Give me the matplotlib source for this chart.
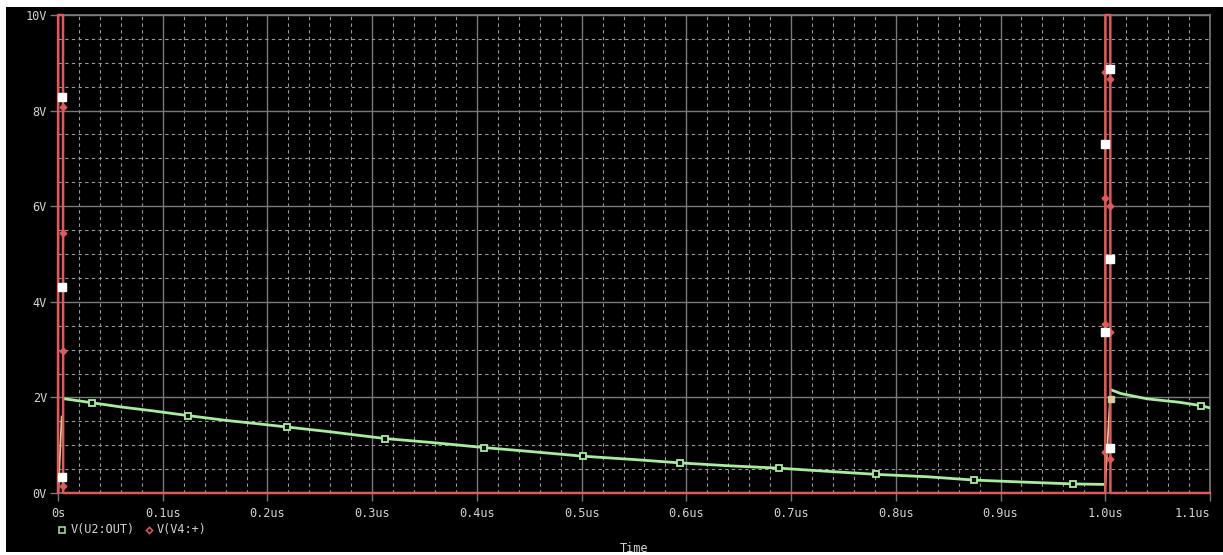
import matplotlib
matplotlib.use("Agg")
import matplotlib.pyplot as plt
from matplotlib.patches import Rectangle
from matplotlib.lines import Line2D
from matplotlib.ticker import MultipleLocator, FixedLocator

# ---------------- data (time in us, volts) ----------------
t_green1 = [0.0062, 0.032, 0.06, 0.09, 0.124, 0.16, 0.19, 0.219, 0.26, 0.312, 0.36,
            0.407, 0.45, 0.501, 0.55, 0.594, 0.64, 0.688, 0.73, 0.781, 0.83, 0.875,
            0.92, 0.969, 0.998]
v_green1 = [1.97, 1.89, 1.80, 1.72, 1.62, 1.52, 1.45, 1.38, 1.28, 1.14, 1.05,
            0.95, 0.87, 0.77, 0.70, 0.63, 0.57, 0.52, 0.46, 0.39, 0.34, 0.27,
            0.23, 0.19, 0.18]
t_green2 = [1.0065, 1.015, 1.04, 1.07, 1.091, 1.1]
v_green2 = [2.15, 2.08, 1.97, 1.90, 1.83, 1.78]
t_green_mk = [0.032, 0.124, 0.219, 0.312, 0.407, 0.501, 0.594, 0.688, 0.781, 0.875, 0.969, 1.091]
v_green_mk = [1.89, 1.62, 1.38, 1.14, 0.95, 0.77, 0.63, 0.52, 0.39, 0.27, 0.19, 1.83]

# rising edges of the output trace (drawn in tan)
t_edge1 = [0.0003, 0.0035]
v_edge1 = [0.0, 1.6]
t_edge2 = [1.0, 1.0045]
v_edge2 = [0.18, 1.97]
t_edge_mk = [1.005]
v_edge_mk = [1.97]

# pulse V(V4:+)
t_red = [0.0, 0.0001, 0.0048, 0.0049, 1.0, 1.0001, 1.0048, 1.0049, 1.1]
v_red = [0.0, 10.0, 10.0, 0.0, 0.0, 10.0, 10.0, 0.0, 0.0]
t_red_mk = [0.0048, 0.0048, 0.0048, 0.0048,
            0.9995, 0.9995, 0.9995, 0.9995,
            1.0048, 1.0048, 1.0048, 1.0048]
v_red_mk = [8.07, 5.44, 2.97, 0.15,
            8.8, 6.17, 3.53, 0.86,
            8.66, 6.0, 3.37, 0.71]

# white overlap markers
t_white = [0.0038, 0.0038, 0.0038, 1.0048, 1.0048, 1.0048, 0.9995, 0.9995]
v_white = [8.28, 4.3, 0.33, 8.87, 4.9, 0.94, 7.3, 3.37]

x_ticks = [0.0, 0.1, 0.2, 0.3, 0.4, 0.5, 0.6, 0.7, 0.8, 0.9, 1.0, 1.1]
x_labels = ["0s", "0.1us", "0.2us", "0.3us", "0.4us", "0.5us", "0.6us",
            "0.7us", "0.8us", "0.9us", "1.0us", "1.1us"]
y_ticks = [0, 2, 4, 6, 8, 10]
y_labels = ["0V", "2V", "4V", "6V", "8V", "10V"]

# ---------------- style ----------------
W, H = 1223, 555
FONT = "DejaVu Sans Mono"
TXT = "#d4d4d4"
GRID = "#7a7a7a"
RED = "#e05a5a"
GREEN = "#a8eca0"
TAN = "#d8cc98"

fig = plt.figure(figsize=(W / 100, H / 100), dpi=100, facecolor="white")
fig.patches.append(Rectangle((6 / W, 3 / H), 1 - 6 / W, (548 - 3) / H,
                             transform=fig.transFigure, facecolor="black",
                             edgecolor="none", zorder=-10))

ax = fig.add_axes([58 / W, 62 / H, (1210 - 58) / W, (493 - 15) / H])
ax.set_zorder(5)
ax.set_facecolor("black")
ax.set_xlim(0, 1.1)
ax.set_ylim(0, 10)

ax.xaxis.set_major_locator(FixedLocator(x_ticks))
ax.yaxis.set_major_locator(FixedLocator(y_ticks))
ax.xaxis.set_minor_locator(MultipleLocator(0.02))
ax.yaxis.set_minor_locator(MultipleLocator(0.5))
ax.set_xticklabels(x_labels, family=FONT, fontsize=8.6, color=TXT)
ax.set_yticklabels(y_labels, family=FONT, fontsize=8.6, color=TXT)
ax.get_xticklabels()[-1].set_horizontalalignment("right")
ax.tick_params(which="major", color=GRID, length=6, width=1, pad=2)
ax.tick_params(which="minor", length=0)
ax.tick_params(axis="x", pad=4)

ax.grid(which="major", color=GRID, linewidth=1.0, linestyle="-")
ax.grid(which="minor", color="#9a9a9a", linewidth=0.8, linestyle=(0, (3, 3)))
ax.set_axisbelow(True)
for s in ax.spines.values():
    s.set_color(GRID)
    s.set_linewidth(1.2)

# traces
ax.plot(t_red, v_red, color=RED, linewidth=1.8, zorder=4, clip_on=False)
ax.plot(t_green1, v_green1, color=GREEN, linewidth=2.0, zorder=3)
ax.plot(t_green2, v_green2, color=GREEN, linewidth=2.0, zorder=3)
ax.plot(t_edge1, v_edge1, color=TAN, linewidth=1.3, zorder=3)
ax.plot(t_edge2, v_edge2, color=TAN, linewidth=1.3, zorder=3)
ax.plot(t_green_mk, v_green_mk, linestyle="none", marker="s", markersize=5,
        markerfacecolor="black", markeredgecolor=GREEN, markeredgewidth=1.3, zorder=5)
ax.plot(t_edge_mk, v_edge_mk, linestyle="none", marker="s", markersize=5,
        markerfacecolor=TAN, markeredgecolor=TAN, zorder=5)
ax.plot(t_red_mk, v_red_mk, linestyle="none", marker="D", markersize=3.4,
        markerfacecolor=RED, markeredgecolor=RED, zorder=6, clip_on=False)
ax.plot(t_white, v_white, linestyle="none", marker="s", markersize=6,
        markerfacecolor="white", markeredgecolor="white", zorder=7, clip_on=False)

# legend (drawn in figure pixels)
def fx(px):
    return px / W

def fy(py):
    return 1 - py / H

fig.add_artist(Line2D([fx(62)], [fy(530)], marker="s", markersize=4.2,
                      markerfacecolor="black", markeredgecolor=GREEN,
                      markeredgewidth=1.1, transform=fig.transFigure))
fig.text(fx(71), fy(530), "V(U2:OUT)", family=FONT, fontsize=8.6, color=TXT,
         ha="left", va="center")
fig.add_artist(Line2D([fx(149)], [fy(530)], marker="D", markersize=3.2,
                      markerfacecolor="black", markeredgecolor=RED,
                      markeredgewidth=1.1, transform=fig.transFigure))
fig.text(fx(157), fy(530), "V(V4:+)", family=FONT, fontsize=8.6, color=TXT,
         ha="left", va="center")
fig.text(fx(634), fy(548), "Time", family=FONT, fontsize=8.6, color=TXT,
         ha="center", va="center")

fig.savefig("out.png", dpi=100, facecolor="white")
